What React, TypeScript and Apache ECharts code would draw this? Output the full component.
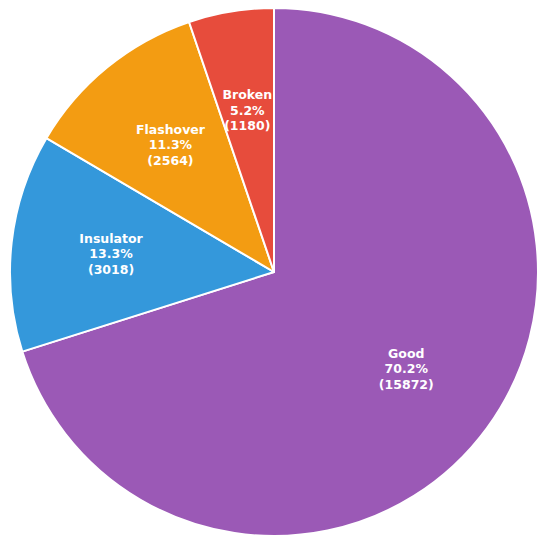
import React, { useEffect, useRef } from "react";
import * as echarts from "echarts";

const categories = ["Good", "Insulator", "Flashover", "Broken"];
const values = [15872, 3018, 2564, 1180];
const percentLabels = ["70.2%", "13.3%", "11.3%", "5.2%"];
const colors = ["#9b59b6", "#3498db", "#f39c12", "#e74c3c"];

export default function App() {
  const ref = useRef<HTMLDivElement>(null);
  useEffect(() => {
    if (!ref.current) return;
    const chart = echarts.init(ref.current, null, { renderer: "svg" });
    const data = categories.map((name, i) => ({
      name,
      value: values[i],
      itemStyle: { color: colors[i] },
    }));
    const cx = 274;
    const cy = 272;
    const r = 264;
    const labelR = 161;
    chart.setOption({
      animation: false,
      series: [
        {
          type: "pie",
          center: [cx, cy],
          radius: [0, r],
          startAngle: 90,
          clockwise: true,
          silent: true,
          data,
          label: { show: false },
          labelLine: { show: false },
          itemStyle: { borderColor: "#ffffff", borderWidth: 2 },
        },
        {
          type: "pie",
          center: [cx, cy],
          radius: [0, labelR * 2],
          startAngle: 90,
          clockwise: true,
          silent: true,
          z: 5,
          data: categories.map((name, i) => ({
            name,
            value: values[i],
            itemStyle: { color: "rgba(0,0,0,0)" },
          })),
          itemStyle: { borderWidth: 0 },
          labelLine: { show: false },
          label: {
            show: true,
            position: "inside",
            color: "#ffffff",
            fontFamily: "DejaVu Sans",
            fontWeight: "bold",
            fontSize: 12.5,
            lineHeight: 15.5,
            formatter: (p: any) =>
              `${p.name}\n${percentLabels[p.dataIndex]}\n(${values[p.dataIndex]})`,
          },
        },
      ],
    });
    return () => chart.dispose();
  }, []);
  return (
    <div
      ref={ref}
      style={{ position: "fixed", left: 0, top: 0, width: 550, height: 546, background: "#ffffff" }}
    />
  );
}
